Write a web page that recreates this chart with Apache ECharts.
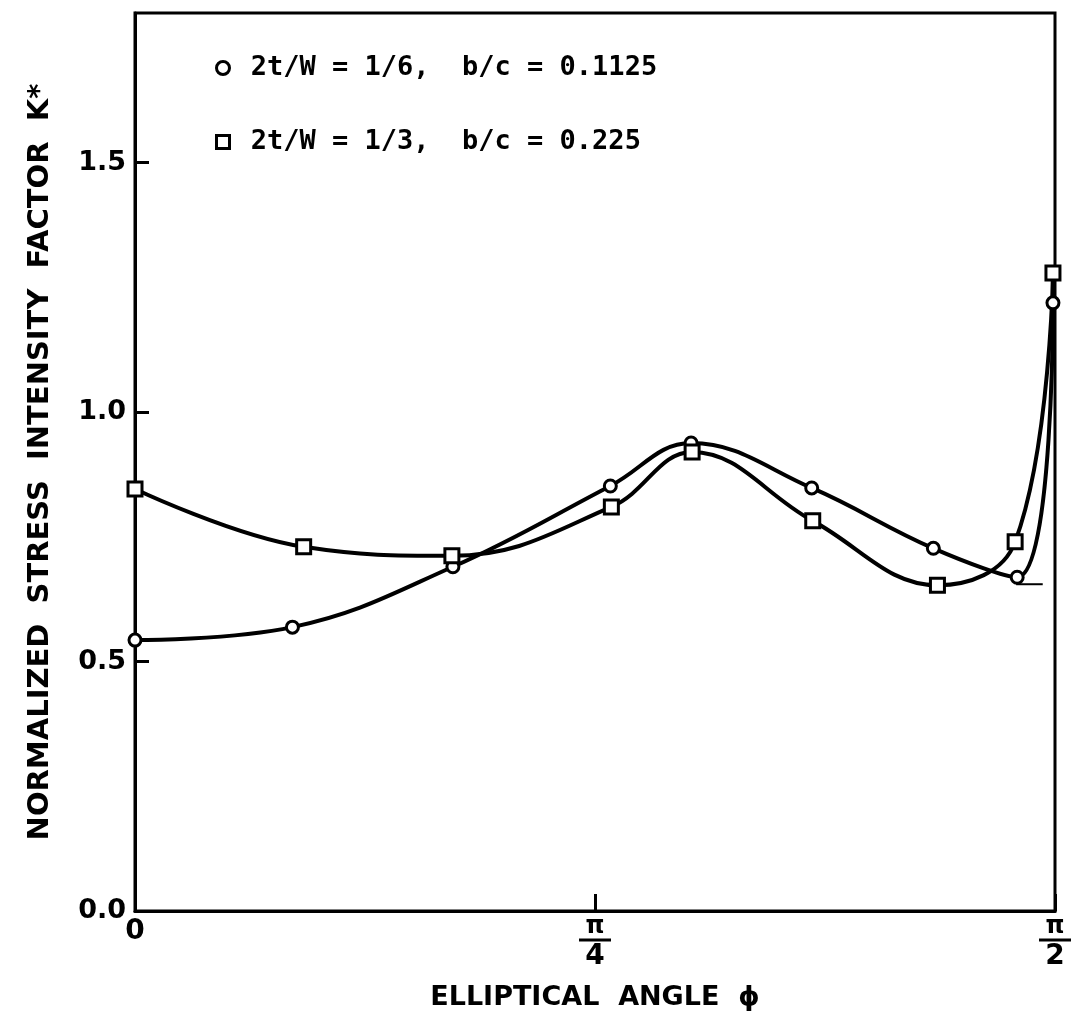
<!DOCTYPE html>
<html>
<head>
<meta charset="utf-8">
<script src="https://cdn.jsdelivr.net/npm/echarts@6/dist/echarts.min.js"></script>
<style>html,body{margin:0;padding:0;background:#fff}#c{width:1074px;height:1017px}</style>
</head>
<body>
<div id="c"></div>
<script>
// Elliptical angle in degrees (0 .. 90 = pi/2)
const seriesNames = ['2t/W = 1/6,  b/c = 0.1125', '2t/W = 1/3,  b/c = 0.225'];
const circleX = [0, 15.4, 31.1, 46.5, 54.4, 66.2, 78.1, 86.3, 89.8];
const circleY = [0.543, 0.569, 0.690, 0.852, 0.938, 0.848, 0.727, 0.669, 1.219];
const squareX = [0, 16.5, 31.0, 46.6, 54.5, 66.3, 78.5, 86.1, 89.8];
const squareY = [0.846, 0.730, 0.712, 0.810, 0.920, 0.782, 0.653, 0.740, 1.279];
const asymptoteX = [86.2, 88.8];
const asymptoteY = [0.655, 0.655];
const xTickValues = [0, 45, 90];
const xTickLabels = ['0', 'π/4', 'π/2'];
const yTickLabels = ['0.0', '0.5', '1.0', '1.5'];

const zip = (xs, ys) => xs.map((x, i) => [x, ys[i]]);
const FONT = 'DejaVu Sans';

function xLabel(v) {
  const i = xTickValues.indexOf(Math.round(v));
  if (i < 0) return '';
  const t = xTickLabels[i];
  if (t.indexOf('/') < 0) return '{z|' + t + '}';
  const p = t.split('/');
  return '{n|' + p[0] + '}\n{bar| }\n{d|' + p[1] + '}';
}
function yLabel(v) {
  const i = Math.round(v / 0.5);
  return (Math.abs(v - i * 0.5) < 1e-6 && i < yTickLabels.length) ? yTickLabels[i] : '';
}

const chart = echarts.init(document.getElementById('c'));
chart.setOption({
  backgroundColor: '#fff',
  animation: false,
  grid: { left: 135, right: 19, top: 13, bottom: 106, show: true, borderColor: '#000', borderWidth: 3 },
  legend: {
    orient: 'vertical', left: 210, top: 48, itemGap: 44,
    itemWidth: 13, itemHeight: 13,
    data: [{ name: seriesNames[0], icon: 'circle' }, { name: seriesNames[1], icon: 'rect' }],
    itemStyle: { color: '#fff', borderColor: '#000', borderWidth: 3 },
    formatter: n => ' ' + n,
    textStyle: { fontFamily: 'DejaVu Sans Mono', fontWeight: 'bold', fontSize: 27, lineHeight: 30, color: '#000' }
  },
  xAxis: {
    type: 'value', min: 0, max: 90, interval: 45,
    name: 'ELLIPTICAL  ANGLE  ϕ', nameLocation: 'middle', nameGap: 73,
    nameTextStyle: { fontFamily: FONT, fontWeight: 'bold', fontSize: 27, color: '#000' },
    axisLine: { lineStyle: { color: '#000', width: 3 } },
    axisTick: { inside: true, length: 17, lineStyle: { color: '#000', width: 3 } },
    splitLine: { show: false },
    axisLabel: {
      margin: 6, formatter: xLabel, color: '#000',
      rich: {
        z: { fontFamily: FONT, fontWeight: 'bold', fontSize: 28, color: '#000', lineHeight: 30 },
        n: { fontFamily: FONT, fontWeight: 'bold', fontSize: 24, color: '#000', lineHeight: 20, align: 'center' },
        bar: { width: 32, height: 3, lineHeight: 6, backgroundColor: '#000', fontSize: 2, align: 'center' },
        d: { fontFamily: FONT, fontWeight: 'bold', fontSize: 28, color: '#000', lineHeight: 28, align: 'center' }
      }
    }
  },
  yAxis: {
    type: 'value', min: 0, max: 1.8, interval: 0.5,
    name: 'NORMALIZED  STRESS  INTENSITY  FACTOR  K*', nameLocation: 'middle', nameRotate: 90, nameGap: 80,
    nameTextStyle: { fontFamily: FONT, fontWeight: 'bold', fontSize: 29, color: '#000' },
    axisLine: { lineStyle: { color: '#000', width: 3 } },
    axisTick: { inside: true, length: 14, lineStyle: { color: '#000', width: 3 } },
    splitLine: { show: false },
    axisLabel: {
      margin: 9, formatter: yLabel, showMaxLabel: false,
      fontFamily: FONT, fontWeight: 'bold', fontSize: 27, color: '#000'
    }
  },
  series: [
    {
      name: seriesNames[0], type: 'line', smooth: 0.4,
      data: zip(circleX, circleY),
      symbol: 'circle', symbolSize: 12, showAllSymbol: true,
      lineStyle: { color: '#000', width: 4 },
      itemStyle: { color: '#fff', borderColor: '#000', borderWidth: 3 },
      z: 3
    },
    {
      name: seriesNames[1], type: 'line', smooth: 0.4,
      data: zip(squareX, squareY),
      symbol: 'rect', symbolSize: 14, showAllSymbol: true,
      lineStyle: { color: '#000', width: 4 },
      itemStyle: { color: '#fff', borderColor: '#000', borderWidth: 3 },
      z: 3
    },
    {
      name: 'asymptote', type: 'line', silent: true,
      data: zip(asymptoteX, asymptoteY),
      symbol: 'none', lineStyle: { color: '#000', width: 2 }
    }
  ]
});
</script>
</body>
</html>
